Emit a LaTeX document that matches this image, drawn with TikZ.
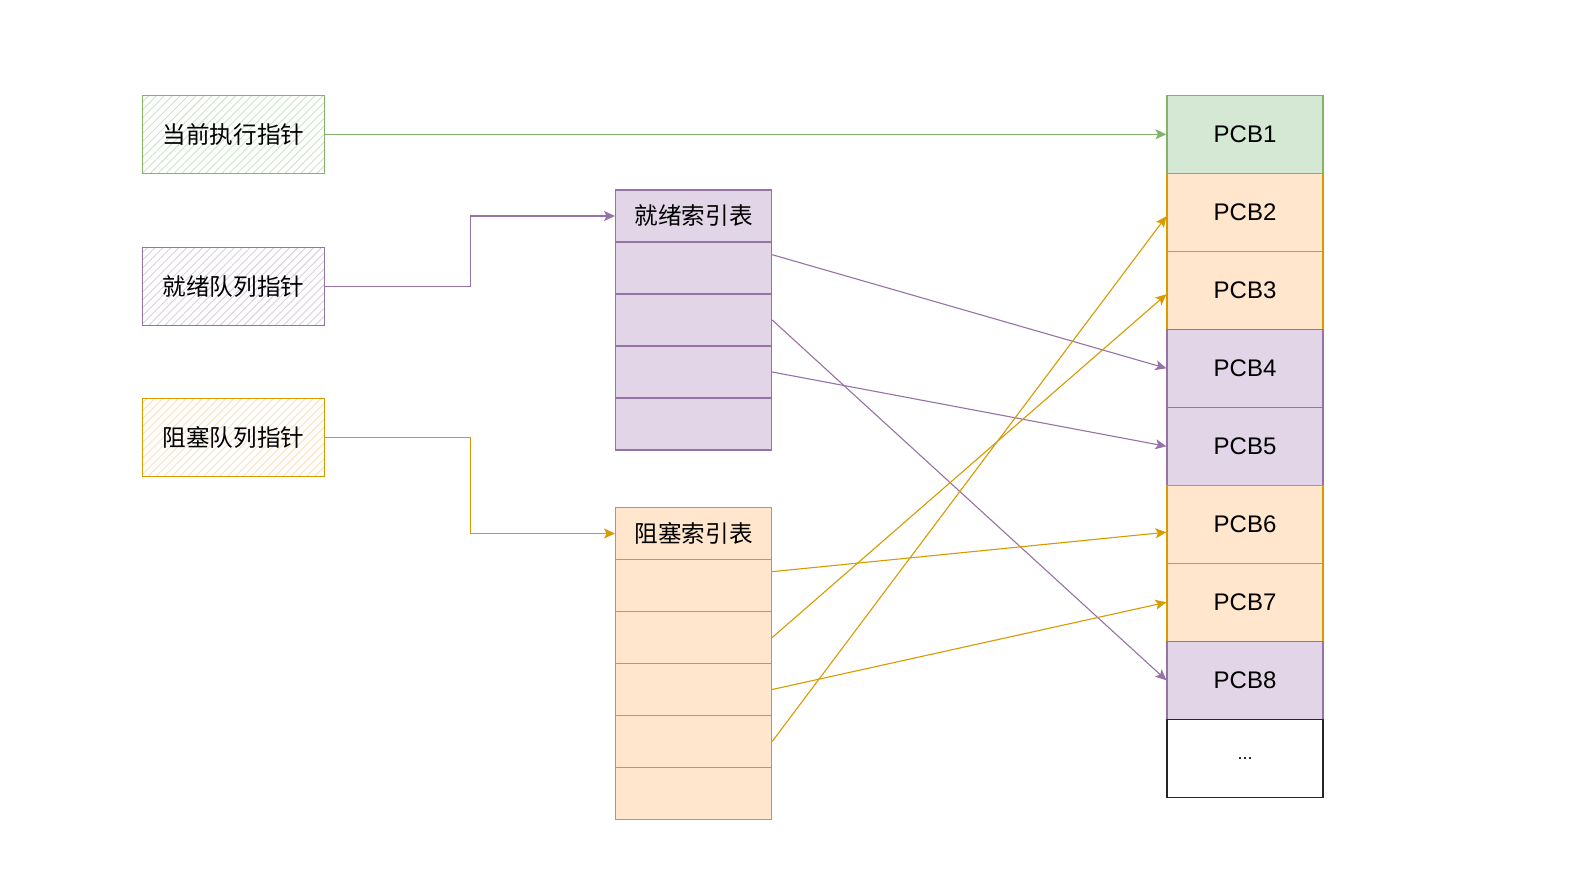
\documentclass[tikz,border=0pt]{standalone}
\usepackage{fontspec}
\setmainfont{Liberation Sans}
\newfontfamily\cjk{Noto Sans CJK SC}
\usetikzlibrary{arrows.meta,patterns.meta,calc}
\definecolor{gstroke}{HTML}{82B366}
\definecolor{gfill}{HTML}{D5E8D4}
\definecolor{pstroke}{HTML}{9673A6}
\definecolor{pfill}{HTML}{E1D5E7}
\definecolor{ostroke}{HTML}{D79B00}
\definecolor{ofill}{HTML}{FFE6CC}
\begin{document}
\begin{tikzpicture}[x=0.5pt,y=-0.5pt,
  ptr/.style={draw, line width=0.75pt, minimum width=91pt, minimum height=39pt, inner sep=0pt,
    font=\cjk\fontsize{11.8}{14}\selectfont},
  hatch/.style={pattern={Lines[angle=45,distance=2.8pt,line width=0.45pt]}, pattern color=#1},
  cell/.style={draw, line width=0.6pt, minimum width=78pt, minimum height=26pt, inner sep=0pt,
    font=\cjk\fontsize{11.8}{14}\selectfont},
  pcb/.style={draw, line width=0.6pt, minimum width=78pt, minimum height=39pt, inner sep=0pt,
    font=\fontsize{12}{14}\selectfont},
  conn/.style={line width=0.55pt, -{Stealth[length=5.5pt,width=5pt,inset=1.3pt]}},
]
\useasboundingbox[fill=white] (0,0) rectangle (1590,878);

% pointer boxes
\node[ptr, draw=gstroke, hatch=gfill!90!gstroke] (cur) at (233.5,134.3) {当前执行指针};
\node[ptr, draw=pstroke, hatch=pfill!92!pstroke] (rp) at (233.5,286.5) {就绪队列指针};
\node[ptr, draw=ostroke, hatch=ofill!92!ostroke] (bp) at (233.5,437.5) {阻塞队列指针};

% ready index table
\foreach \n/\y/\t in {rh/216/就绪索引表, r1/268/, r2/320/, r3/372/, r4/424/}
  \node[cell, draw=pstroke, fill=pfill] (\n) at (693.6,\y) {\t};

% blocked index table
\foreach \n/\y/\t in {bh/533.5/阻塞索引表, b1/585.5/, b2/637.5/, b3/689.5/, b4/741.5/, b5/793.5/}
  \node[cell, draw=ostroke, fill=ofill] (\n) at (693.6,\y) {\t};

% PCB column
\node[pcb, draw=gstroke, fill=gfill] (p1) at (1245,134.3) {PCB1};
\node[pcb, draw=ostroke, fill=ofill] (p2) at (1245,212.3) {PCB2};
\node[pcb, draw=ostroke, fill=ofill] (p3) at (1245,290.3) {PCB3};
\node[pcb, draw=pstroke, fill=pfill] (p4) at (1245,368.3) {PCB4};
\node[pcb, draw=pstroke, fill=pfill] (p5) at (1245,446.3) {PCB5};
\node[pcb, draw=ostroke, fill=ofill] (p6) at (1245,524.3) {PCB6};
\node[pcb, draw=ostroke, fill=ofill] (p7) at (1245,602.3) {PCB7};
\node[pcb, draw=pstroke, fill=pfill] (p8) at (1245,680.3) {PCB8};
\node[pcb, draw=black!85, fill=white, font=\fontsize{9}{11}\selectfont] (p9) at (1245,758.3) {...};

% connectors
\draw[conn, gstroke] (cur.east) -- (p1.west);

\coordinate (m1) at ($(rp.east)!0.5!(rh.west)$);
\draw[conn, pstroke] (rp.east) -| (m1) |- (rh.west);
\coordinate (m2) at ($(bp.east)!0.5!(bh.west)$);
\draw[conn, ostroke] (bp.east) -| (m2) |- (bh.west);

\draw[conn, pstroke] ($(r1.north east)!0.25!(r1.south east)$) -- (p4.west);
\draw[conn, pstroke] (r2.east) -- (p8.west);
\draw[conn, pstroke] (r3.east) -- (p5.west);

\draw[conn, ostroke] ($(b1.north east)!0.24!(b1.south east)$) -- ($(p6.north west)!0.6!(p6.south west)$);
\draw[conn, ostroke] (b2.east) -- ($(p3.north west)!0.55!(p3.south west)$);
\draw[conn, ostroke] (b3.east) -- (p7.west);
\draw[conn, ostroke] (b4.east) -- ($(p2.north west)!0.55!(p2.south west)$);
\end{tikzpicture}
\end{document}
